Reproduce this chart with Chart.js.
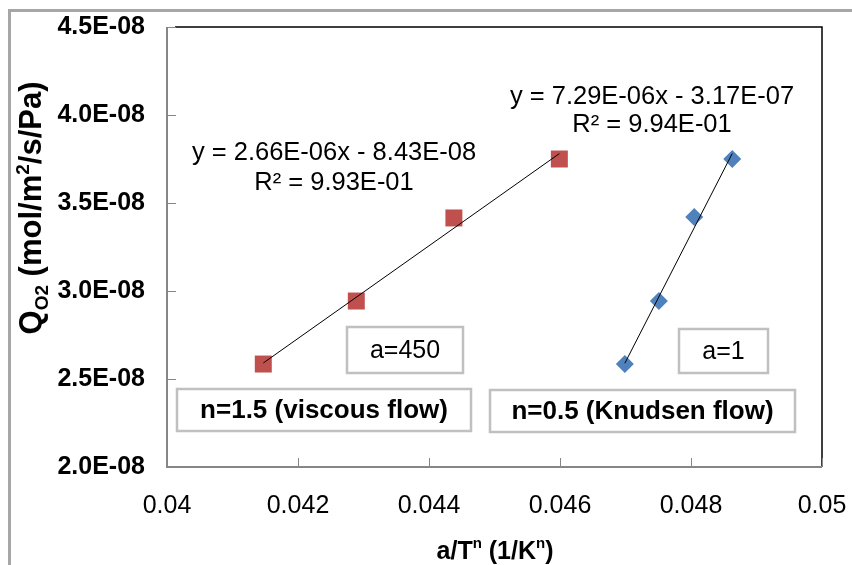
<!DOCTYPE html>
<html>
<head>
<meta charset="utf-8">
<script src="https://cdn.jsdelivr.net/npm/chart.js@4"></script>
<style>
  body { margin: 0; background: #fff; }
  canvas { display: block; }
</style>
</head>
<body>
<canvas id="chart" width="852" height="565"></canvas>
<script>
// values
const viscousX = [0.04147, 0.04289, 0.04438, 0.04599];
const viscousY = [2.585e-8, 2.943e-8, 3.415e-8, 3.75e-8];
const knudsenX = [0.04699, 0.04751, 0.04805, 0.04863];
const knudsenY = [2.585e-8, 2.943e-8, 3.42e-8, 3.75e-8];
const xTicks = [0.04, 0.042, 0.044, 0.046, 0.048, 0.05];
const yTicks = [2.0e-8, 2.5e-8, 3.0e-8, 3.5e-8, 4.0e-8, 4.5e-8];
const eqViscous = ['y = 2.66E-06x - 8.43E-08', 'R\u00B2 = 9.93E-01'];
const eqKnudsen = ['y = 7.29E-06x - 3.17E-07', 'R\u00B2 = 9.94E-01'];

const FONT = "'Liberation Sans', Arial, sans-serif";

function sci(v) {
  const [m, e] = v.toExponential(1).split('e');
  const n = Math.abs(+e);
  return m + 'E' + (+e < 0 ? '-' : '+') + String(n).padStart(2, '0');
}

function pts(xs, ys) { return xs.map((x, i) => ({ x, y: ys[i] })); }

// least squares trendline, drawn from min x to max x like Excel
function trend(xs, ys) {
  const n = xs.length;
  const mx = xs.reduce((a, b) => a + b, 0) / n;
  const my = ys.reduce((a, b) => a + b, 0) / n;
  let sxy = 0, sxx = 0;
  xs.forEach((x, i) => { sxy += (x - mx) * (ys[i] - my); sxx += (x - mx) ** 2; });
  const k = sxy / sxx, b = my - k * mx;
  const x0 = Math.min(...xs), x1 = Math.max(...xs);
  return [{ x: x0, y: k * x0 + b }, { x: x1, y: k * x1 + b }];
}

function drawRich(ctx, parts, cx, cy, rot) {
  ctx.save();
  ctx.translate(cx, cy);
  if (rot) ctx.rotate(rot);
  ctx.textBaseline = 'alphabetic';
  ctx.textAlign = 'left';
  let total = 0;
  parts.forEach(p => { ctx.font = p.font; p.w = ctx.measureText(p.t).width; total += p.w; });
  let x = -total / 2;
  parts.forEach(p => {
    ctx.font = p.font;
    ctx.fillStyle = '#000';
    ctx.fillText(p.t, x, 10 + (p.dy || 0));
    x += p.w;
  });
  ctx.restore();
}

function textBox(ctx, x0, y0, x1, y1, text, font) {
  ctx.save();
  ctx.strokeStyle = '#c0c0c0';
  ctx.lineWidth = 2.5;
  ctx.fillStyle = '#fff';
  ctx.fillRect(x0, y0, x1 - x0, y1 - y0);
  ctx.strokeRect(x0, y0, x1 - x0, y1 - y0);
  ctx.font = font;
  ctx.fillStyle = '#000';
  ctx.textAlign = 'center';
  ctx.textBaseline = 'middle';
  ctx.fillText(text, (x0 + x1) / 2, (y0 + y1) / 2 + 1);
  ctx.restore();
}

const decor = {
  id: 'decor',
  beforeDraw(chart) {
    const ctx = chart.ctx;
    ctx.save();
    ctx.fillStyle = '#fff';
    ctx.fillRect(0, 0, chart.width, chart.height);
    ctx.strokeStyle = '#a6a6a6';
    ctx.lineWidth = 3;
    ctx.beginPath();
    ctx.moveTo(852, 10.5);
    ctx.lineTo(9.5, 10.5);
    ctx.lineTo(9.5, 565);
    ctx.stroke();
    ctx.restore();
  },
  afterDatasetsDraw(chart) {
    const ctx = chart.ctx;
    const a = chart.chartArea;
    const xs = chart.scales.x, ys = chart.scales.y;
    ctx.save();
    // plot frame
    ctx.strokeStyle = '#000';
    ctx.lineWidth = 1.5;
    ctx.beginPath();
    ctx.moveTo(a.left + 8, a.top);
    ctx.lineTo(a.right, a.top);
    ctx.lineTo(a.right, a.bottom);
    ctx.stroke();
    ctx.strokeStyle = '#868686';
    ctx.lineWidth = 2;
    ctx.beginPath();
    ctx.moveTo(a.left, a.top);
    ctx.lineTo(a.left, a.bottom);
    ctx.lineTo(a.right, a.bottom);
    ctx.stroke();
    // inside tick marks
    ctx.lineWidth = 1;
    ctx.beginPath();
    yTicks.forEach(v => {
      const y = Math.round(ys.getPixelForValue(v)) + 0.5;
      ctx.moveTo(a.left, y); ctx.lineTo(a.left + 9, y);
    });
    xTicks.forEach(v => {
      const x = Math.round(xs.getPixelForValue(v)) + 0.5;
      ctx.moveTo(x, a.bottom); ctx.lineTo(x, a.bottom - 9);
    });
    ctx.stroke();
    ctx.restore();

    // trendline equations
    ctx.save();
    ctx.font = '25.5px ' + FONT;
    ctx.fillStyle = '#000';
    ctx.textAlign = 'center';
    ctx.textBaseline = 'middle';
    ctx.fillText(eqViscous[0], 334, 153);
    ctx.fillText(eqViscous[1], 334, 183);
    ctx.fillText(eqKnudsen[0], 652, 97);
    ctx.fillText(eqKnudsen[1], 652, 125);
    ctx.restore();

    // label boxes
    textBox(ctx, 347, 327, 463, 373, 'a=450', '25px ' + FONT);
    textBox(ctx, 679, 329, 768, 373, 'a=1', '25px ' + FONT);
    textBox(ctx, 177, 389, 471, 431, 'n=1.5 (viscous flow)', 'bold 26px ' + FONT);
    textBox(ctx, 490, 390, 795, 432, 'n=0.5 (Knudsen flow)', 'bold 26px ' + FONT);

    // axis titles
    const B = s => 'bold ' + s + 'px ' + FONT;
    drawRich(ctx, [
      { t: 'a/T', font: B(25) },
      { t: 'n', font: B(15), dy: -11 },
      { t: ' (1/K', font: B(25) },
      { t: 'n', font: B(15), dy: -11 },
      { t: ')', font: B(25) }
    ], 495, 549);
    drawRich(ctx, [
      { t: 'Q', font: B(31) },
      { t: 'O2', font: B(19), dy: 7 },
      { t: ' (mol/m', font: B(31) },
      { t: '2', font: B(19), dy: -12 },
      { t: '/s/Pa)', font: B(31) }
    ], 31, 208, -Math.PI / 2);
  }
};

new Chart(document.getElementById('chart'), {
  type: 'scatter',
  data: {
    datasets: [
      { label: 'viscous fit', data: trend(viscousX, viscousY), showLine: true, borderColor: '#000', borderWidth: 1, pointRadius: 0, order: 0 },
      { label: 'Knudsen fit', data: trend(knudsenX, knudsenY), showLine: true, borderColor: '#000', borderWidth: 1, pointRadius: 0, order: 0 },
      { label: 'viscous', data: pts(viscousX, viscousY), pointStyle: 'rect', pointRadius: 12, backgroundColor: '#C0504D', borderColor: '#C0504D', borderWidth: 0, order: 1 },
      { label: 'Knudsen', data: pts(knudsenX, knudsenY), pointStyle: 'rectRot', pointRadius: 9, backgroundColor: '#4F81BD', borderColor: '#4F81BD', borderWidth: 0, order: 1 }
    ]
  },
  options: {
    responsive: false,
    animation: false,
    layout: { padding: { top: 27, right: 30, left: 0, bottom: 0 } },
    plugins: { legend: { display: false }, tooltip: { enabled: false } },
    scales: {
      x: {
        type: 'linear',
        min: 0.04, max: 0.05,
        afterBuildTicks: s => { s.ticks = xTicks.map(v => ({ value: v })); },
        afterFit: s => { s.height = 98; s.paddingLeft = 0; s.paddingRight = 0; },
        grid: { display: false, drawTicks: false },
        border: { display: false },
        ticks: {
          padding: 24,
          color: '#000',
          font: { family: FONT, size: 25 },
          callback: v => String(parseFloat(v.toFixed(3)))
        }
      },
      y: {
        type: 'linear',
        min: 2.0e-8, max: 4.5e-8,
        afterBuildTicks: s => { s.ticks = yTicks.map(v => ({ value: v })); },
        afterFit: s => { s.width = 167; s.paddingTop = 0; s.paddingBottom = 0; },
        grid: { display: false, drawTicks: false },
        border: { display: false },
        ticks: {
          padding: 22,
          color: '#000',
          font: { family: FONT, size: 25, weight: 'bold' },
          callback: v => sci(v)
        }
      }
    }
  },
  plugins: [decor]
});
</script>
</body>
</html>
